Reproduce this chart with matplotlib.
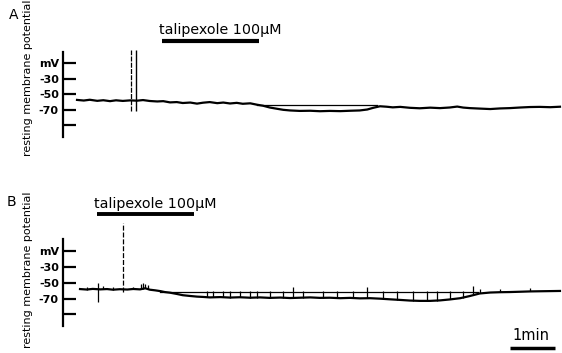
import matplotlib
matplotlib.use("Agg")
import matplotlib.pyplot as plt
import numpy as np

plt.rcParams['font.family'] = ['DejaVu Sans']

# ---------------- data ----------------
# Panel A: time (s) and membrane potential (mV)
tA = [0, 9, 17, 27, 35, 44, 52, 61, 71, 80, 88, 97, 107, 115, 124, 133, 141, 151,
      160, 168, 177, 187, 195, 204, 213, 221, 231, 240, 248, 257, 267, 275, 284,
      297, 311, 324, 337, 351, 364, 377, 387, 395, 404, 413, 421, 431, 444, 457,
      471, 484, 497, 507, 515, 524, 537, 551, 564, 577, 591, 604, 617, 631, 644]
vA = [-57.0, -57.8, -56.8, -58.2, -57.4, -58.6, -57.5, -58.3, -57.6, -58.0, -57.2,
      -58.4, -59.0, -58.6, -60.2, -59.8, -61.0, -60.4, -61.8, -60.6, -59.8, -61.2,
      -60.4, -61.6, -60.8, -62.0, -61.4, -63.2, -64.5, -66.8, -68.5, -69.8, -70.6,
      -71.2, -71.0, -71.6, -71.2, -71.5, -71.0, -70.6, -69.4, -67.2, -65.2, -65.8,
      -66.6, -66.0, -67.2, -67.8, -67.0, -67.6, -66.8, -65.6, -66.9, -67.6, -68.2,
      -68.8, -68.0, -67.6, -66.8, -66.2, -66.0, -66.4, -65.8]
baseA_t = [240, 400]
baseA_v = -63.5
spikesA_t = [72, 79]
spikesA_range = [-71.3, 7.4]
drugA = [113, 243]

# Panel B
tB = [4, 13, 21, 31, 40, 48, 57, 67, 75, 84, 91, 97, 104, 111, 117, 124, 133, 141,
      151, 160, 168, 177, 191, 204, 217, 231, 244, 257, 271, 284, 297, 311, 324,
      337, 351, 364, 377, 391, 404, 417, 431, 444, 457, 471, 484, 497, 511, 524,
      537, 551, 564, 577, 591, 604, 617, 631, 644]
vB = [-58.0, -58.6, -57.8, -58.4, -58.0, -58.8, -58.2, -58.6, -57.9, -58.4, -57.0,
      -58.8, -59.6, -60.6, -61.8, -62.6, -64.2, -65.8, -66.8, -67.6, -68.0, -68.6,
      -68.2, -68.8, -68.4, -69.0, -68.6, -69.2, -68.8, -69.4, -69.0, -68.6, -69.2,
      -69.0, -69.6, -69.2, -69.8, -69.6, -70.2, -71.0, -71.8, -72.6, -73.0, -73.0,
      -72.4, -71.2, -69.6, -66.8, -63.6, -62.4, -62.0, -61.8, -61.4, -61.0, -60.8,
      -60.6, -60.4]
baseB_t = [111, 535]
baseB_v = -61.7
ticksB_t = [13, 35, 48, 75, 85, 88, 91, 94, 173, 181, 195, 204, 217, 231, 240, 257,
            275, 288, 301, 328, 347, 368, 387, 408, 427, 448, 467, 480, 497, 515,
            528, 537, 564, 604]
ticksB_top = [-55, -54, -55, -55, -51, -50, -52, -53, -61, -60, -61, -60, -61, -60,
              -61, -60, -61, -55, -61, -60, -61, -61, -55, -61, -60, -61, -60, -61,
              -60, -61, -54, -58, -58, -57]
spikeB1_t, spikeB1_range = 28, [-74.4, -50.3]
spikeB2_t, spikeB2_range = 61, [-61.7, 25.9]
drugB = [27, 156]
scalebar_t = [577, 637]

ytick_vals = [-10, -30, -50, -70, -90]
ytick_labels = ['mV', '-30', '-50', '-70', '']
drug_label = 'talipexole 100µM'
ylabel = 'resting membrane potential'

# ---------------- figure ----------------
W, H = 562, 353
fig = plt.figure(figsize=(W / 100, H / 100), dpi=100)


def px_axes(left, top, right, bottom):
    return fig.add_axes([left / W, 1 - bottom / H, (right - left) / W, (bottom - top) / H])


def style(ax, ylim):
    ax.set_xlim(-18.7, 646.7)
    ax.set_ylim(*ylim)
    for s in ['top', 'right', 'bottom']:
        ax.spines[s].set_visible(False)
    ax.spines['left'].set_linewidth(1.6)
    ax.spines['left'].set_bounds(-105, 5)
    ax.set_xticks([])
    ax.set_yticks(ytick_vals)
    ax.set_yticklabels(ytick_labels)
    ax.tick_params(axis='y', direction='in', length=9, width=1.6, pad=3,
                   labelsize=8)
    for lab in ax.get_yticklabels():
        lab.set_fontweight('bold')
    ax.patch.set_visible(False)


# Panel A
axA = px_axes(63, 15, 562, 145)
style(axA, (-115.2, 52.6))
axA.plot(tA, vA, color='black', lw=1.6)
axA.plot(baseA_t, [baseA_v, baseA_v], color='black', lw=0.9)
axA.vlines(spikesA_t[0], *spikesA_range, color='black', lw=0.9, linestyles=(0, (4, 1)))
axA.vlines(spikesA_t[1], *spikesA_range, color='black', lw=1.0)
axA.plot(drugA, [19, 19], color='black', lw=3.0, solid_capstyle='butt')
axA.text(np.mean(drugA) + 13, 33, drug_label, ha='center', va='center', fontsize=10.3)

# Panel B
axB = px_axes(63, 190, 562, 353)
style(axB, (-139.2, 67.8))
axB.plot(tB, vB, color='black', lw=1.6)
axB.plot(baseB_t, [baseB_v, baseB_v], color='black', lw=0.9)
base_at = np.interp(ticksB_t, tB, vB)
axB.vlines(ticksB_t, base_at, ticksB_top, color='black', lw=0.9)
axB.vlines(spikeB1_t, *spikeB1_range, color='black', lw=0.9)
axB.vlines(spikeB2_t, *spikeB2_range, color='black', lw=0.9, linestyles=(0, (4, 1.5)))
axB.plot(drugB, [37.3, 37.3], color='black', lw=2.8, solid_capstyle='butt')
axB.text(np.mean(drugB) + 13, 50, drug_label, ha='center', va='center', fontsize=10.3)
axB.plot(scalebar_t, [-132.9, -132.9], color='black', lw=2.5, solid_capstyle='butt',
         clip_on=False)
axB.text(np.mean(scalebar_t) - 2, -117.5, '1min', ha='center', va='center',
         fontsize=10.5)

# panel letters & y labels
fig.text(14 / W, 1 - 15 / H, 'A', ha='center', va='center', fontsize=10)
fig.text(11 / W, 1 - 202 / H, 'B', ha='center', va='center', fontsize=10)
fig.text(28 / W, 1 - 78 / H, ylabel, rotation=90, ha='center', va='center', fontsize=8)
fig.text(28 / W, 1 - 270 / H, ylabel, rotation=90, ha='center', va='center', fontsize=8)

fig.savefig('out.png', dpi=100)
